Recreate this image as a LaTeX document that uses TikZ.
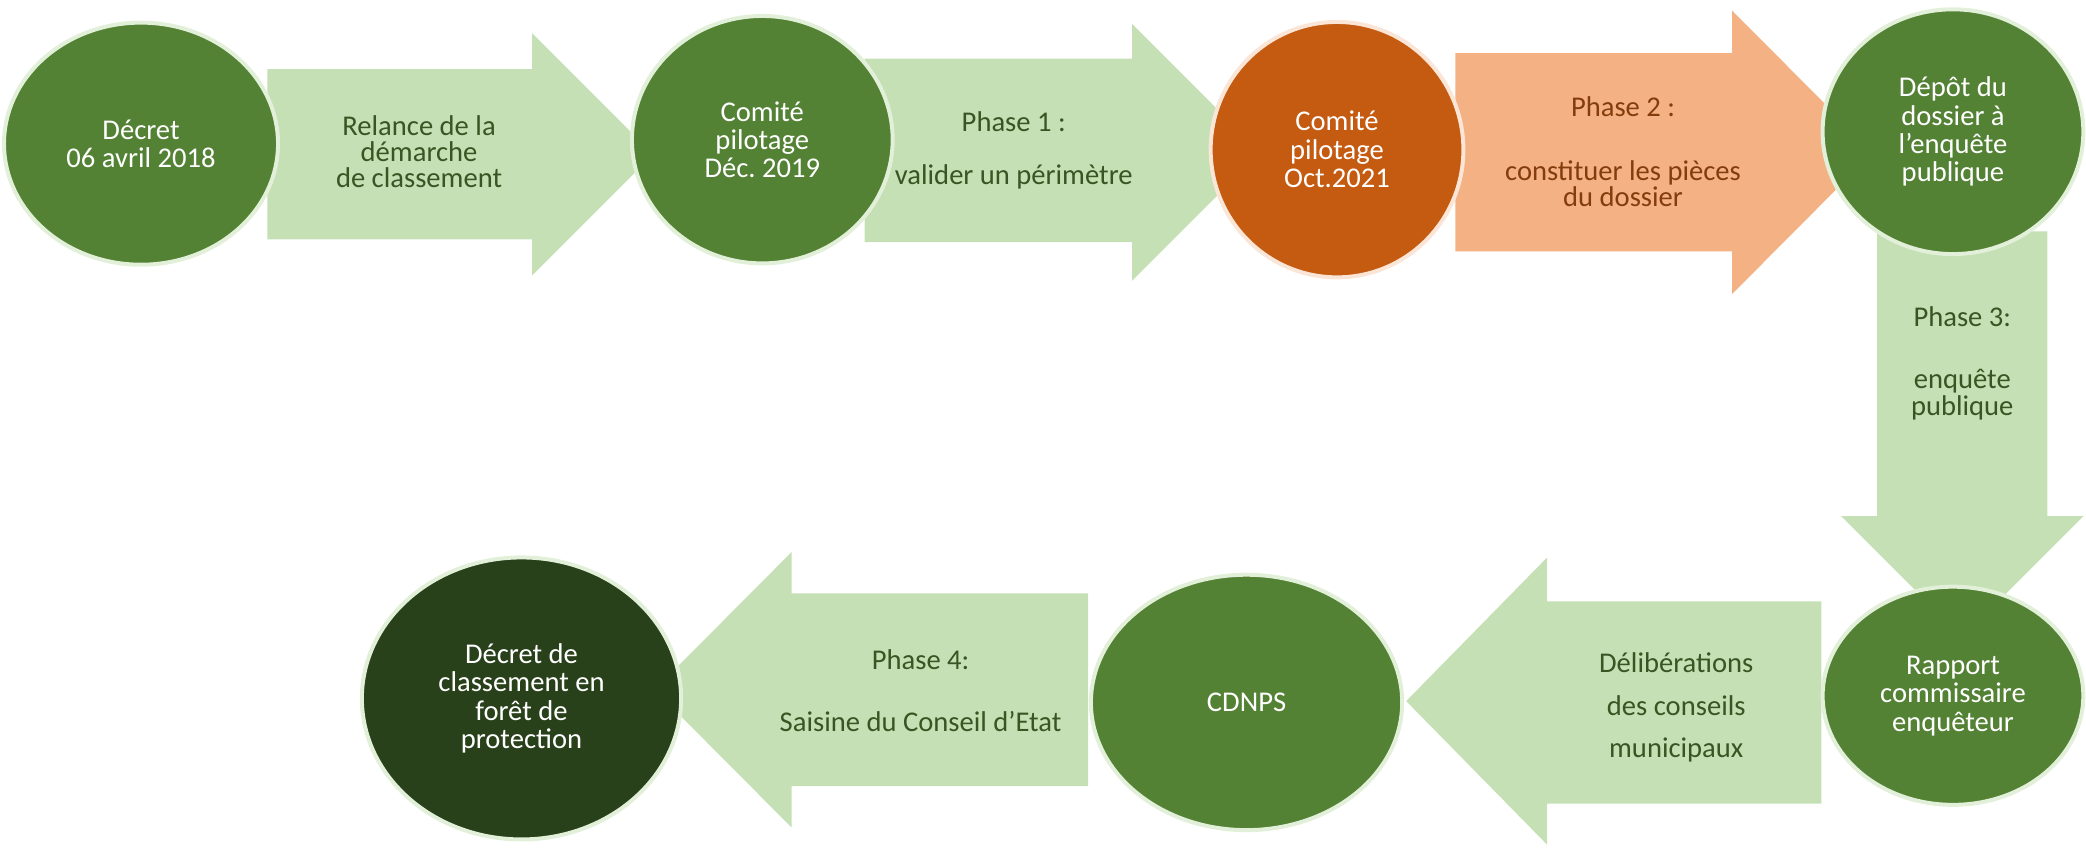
\documentclass[tikz,border=0pt]{standalone}
\usepackage{fontspec}
\setmainfont{Carlito}
\frenchspacing
\usetikzlibrary{shapes.geometric}
\definecolor{cgreen}{HTML}{548235}
\definecolor{cborder}{HTML}{E2F0D9}
\definecolor{carrow}{HTML}{C5E0B4}
\definecolor{corange}{HTML}{C55A11}
\definecolor{coborder}{HTML}{FBE5D6}
\definecolor{coarrow}{HTML}{F4B183}
\definecolor{cdark}{HTML}{29411B}
\definecolor{ctext}{HTML}{375623}
\definecolor{cotext}{HTML}{843C0C}
\def\U{0.6652pt}
\tikzset{
  circ/.style={ellipse, fill=cgreen, draw=cborder, line width=2pt, inner sep=0pt,
    text=white, align=center, font=\fontsize{14.3}{14.2}\selectfont},
  arr/.style={fill=carrow},
  arrtext/.style={text=ctext, align=center, inner sep=0pt, font=\fontsize{14.3}{13.2}\selectfont},
}
\begin{document}
\begin{tikzpicture}[x=0.6652pt, y=-0.6652pt]
\useasboundingbox (0,0) rectangle (1568,637);
% arrows
\path[arr] (201,52) -- (400,52) -- (400,25) -- (491,116) -- (400,207) -- (400,180) -- (201,180) -- cycle;
\path[arr] (650,44) -- (851,44) -- (851,18) -- (947.5,114.5) -- (851,211) -- (851,182) -- (650,182) -- cycle;
\path[fill=coarrow] (1094,40) -- (1302,40) -- (1302,8) -- (1408,114.5) -- (1302,221) -- (1302,189) -- (1094,189) -- cycle;
\path[arr] (1411,174) -- (1539,174) -- (1539,388) -- (1566,388) -- (1475,479) -- (1384,388) -- (1411,388) -- cycle;
\path[arr] (1369,452) -- (1369,604) -- (1163,604) -- (1163,635) -- (1057,527) -- (1163,419) -- (1163,452) -- cycle;
\path[arr] (818,446) -- (818,591) -- (595,591) -- (595,622) -- (492,518.5) -- (595,415) -- (595,446) -- cycle;
% arrow texts
\node[arrtext] (t1) at (315,114) {Relance de la\\démarche\\de classement};
\node[arrtext] (t2) at (762,113) {Phase 1 :\\[13pt]valider un périmètre};
\node[arrtext, text=cotext] (t3) at (1220,114) {Phase 2 :\\[19pt]constituer les pièces\\du dossier};
\node[arrtext] (t4) at (1475,273) {Phase 3:\\[18pt]enquête\\publique};
\node[arrtext, font=\fontsize{14.3}{21.3}\selectfont] (t5) at (1260,532) {Délibérations\\des conseils\\municipaux};
\node[arrtext] (t6) at (692,519) {Phase 4:\\[18pt]Saisine du Conseil d’Etat};
% circles
\node[circ, minimum width=206*\U, minimum height=182*\U] (e1) at (106,108) {Décret\\06 avril 2018};
\node[circ, minimum width=196*\U, minimum height=186*\U] (e2) at (573,105) {Comité\\pilotage\\Déc. 2019};
\node[circ, fill=corange, draw=coborder, minimum width=190*\U, minimum height=192*\U] (e3) at (1005,112.5) {Comité\\pilotage\\Oct.2021};
\node[circ, minimum width=196*\U, minimum height=184*\U] (e4) at (1468,99) {Dépôt du\\dossier à\\l’enquête\\publique};
\node[circ, minimum width=196*\U, minimum height=164*\U] (e5) at (1468,523) {Rapport\\commissaire\\enquêteur};
\node[circ, minimum width=234*\U, minimum height=192*\U] (e6) at (937,528) {CDNPS};
\node[circ, fill=cdark, minimum width=240*\U, minimum height=212*\U] (e7) at (392,525) {Décret de\\classement en\\forêt de\\protection};
\end{tikzpicture}
\end{document}
